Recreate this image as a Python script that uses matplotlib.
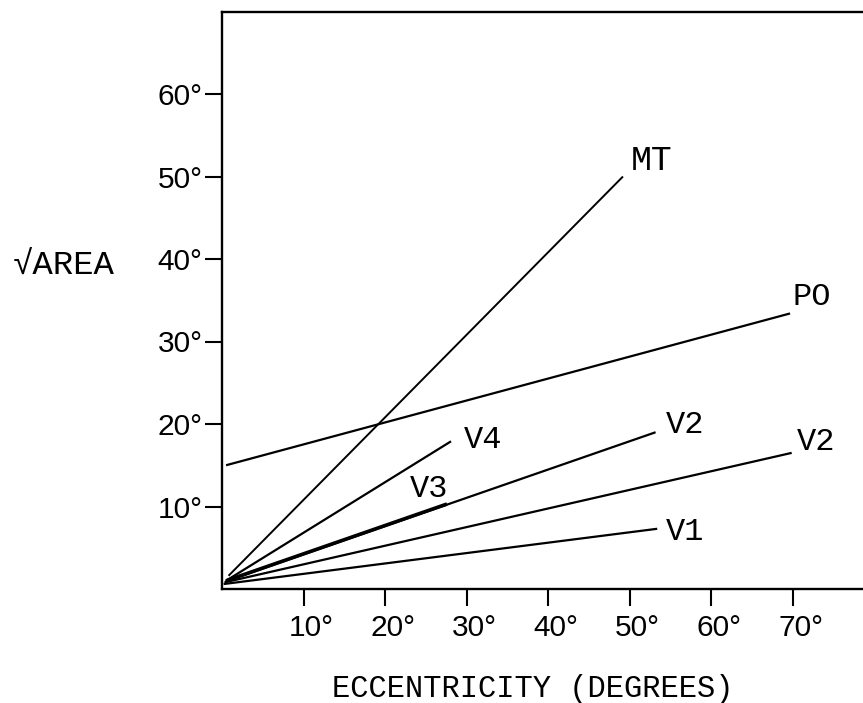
import matplotlib
matplotlib.use("Agg")
import matplotlib.pyplot as plt
from matplotlib.transforms import ScaledTranslation

# Data (degrees)
areas = ["MT", "PO", "V4", "V3", "V2", "V2", "V1"]
x_start = [0.8, 0.5, 0.5, 0.5, 0.4, 0.3, 0.2]
y_start = [1.6, 15.0, 1.0, 1.0, 0.9, 0.8, 0.6]
x_end = [49.2, 69.7, 28.1, 27.6, 53.2, 69.9, 53.4]
y_end = [50.0, 33.4, 17.9, 10.3, 19.0, 16.5, 7.3]
label_x = [50.2, 70.0, 29.7, 23.0, 54.4, 70.5, 54.5]
label_y = [50.8, 34.4, 17.1, 11.15, 18.9, 16.85, 5.94]

x_ticks = [10, 20, 30, 40, 50, 60, 70]
y_ticks = [10, 20, 30, 40, 50, 60]
x_ticklabels = ["10°", "20°", "30°", "40°", "50°", "60°", "70°"]
y_ticklabels = ["10°", "20°", "30°", "40°", "50°", "60°"]

DPI = 100
fig = plt.figure(figsize=(8.63, 7.03), dpi=DPI)
left_px, right_px, bottom_px, top_px = 222, 863, 589, 12
ax = fig.add_axes([left_px / 863, (703 - bottom_px) / 703,
                   (right_px - left_px) / 863, (bottom_px - top_px) / 703])
ax.set_xlim(0, (right_px - left_px) / 8.15)
ax.set_ylim(0, (bottom_px - top_px) / 8.25)

lws = [1.4, 1.6, 1.6, 2.6, 1.6, 1.6, 1.6]
for xs, ys, xe, ye, lw in zip(x_start, y_start, x_end, y_end, lws):
    ax.plot([xs, xe], [ys, ye], color="black", lw=lw, solid_capstyle="butt")

mono = "Liberation Mono"
sizes = [25, 23, 23, 23, 23, 23, 23]
for name, lx, ly, fs in zip(areas, label_x, label_y, sizes):
    ax.text(lx, ly, name, ha="left", va="baseline", fontsize=fs,
            family=mono, color="black")

ax.spines["right"].set_visible(False)
for s in ["top", "left", "bottom"]:
    ax.spines[s].set_linewidth(1.7)
    ax.spines[s].set_color("black")

ax.set_xticks(x_ticks)
ax.set_xticklabels(x_ticklabels)
ax.set_yticks(y_ticks)
ax.set_yticklabels(y_ticklabels)
ax.tick_params(axis="x", direction="out", length=12, width=1.5, pad=6,
               labelsize=21.5)
ax.tick_params(axis="y", direction="out", length=12, width=1.5, pad=2,
               labelsize=21.5)
for lab in ax.get_xticklabels() + ax.get_yticklabels():
    lab.set_family("Liberation Sans")
for lab in ax.get_xticklabels():
    lab.set_transform(lab.get_transform() + ScaledTranslation(8 / DPI, 0, fig.dpi_scale_trans))

fig.text(13 / 863, 1 - 275 / 703, "√AREA", ha="left", va="baseline",
         fontsize=24.5, family=[mono, "DejaVu Sans"])
fig.text((333 + 732) / 2 / 863, 1 - 697 / 703, "ECCENTRICITY (DEGREES)",
         ha="center", va="baseline", fontsize=22, family=mono)

fig.savefig("out.png", dpi=DPI, facecolor="white")
